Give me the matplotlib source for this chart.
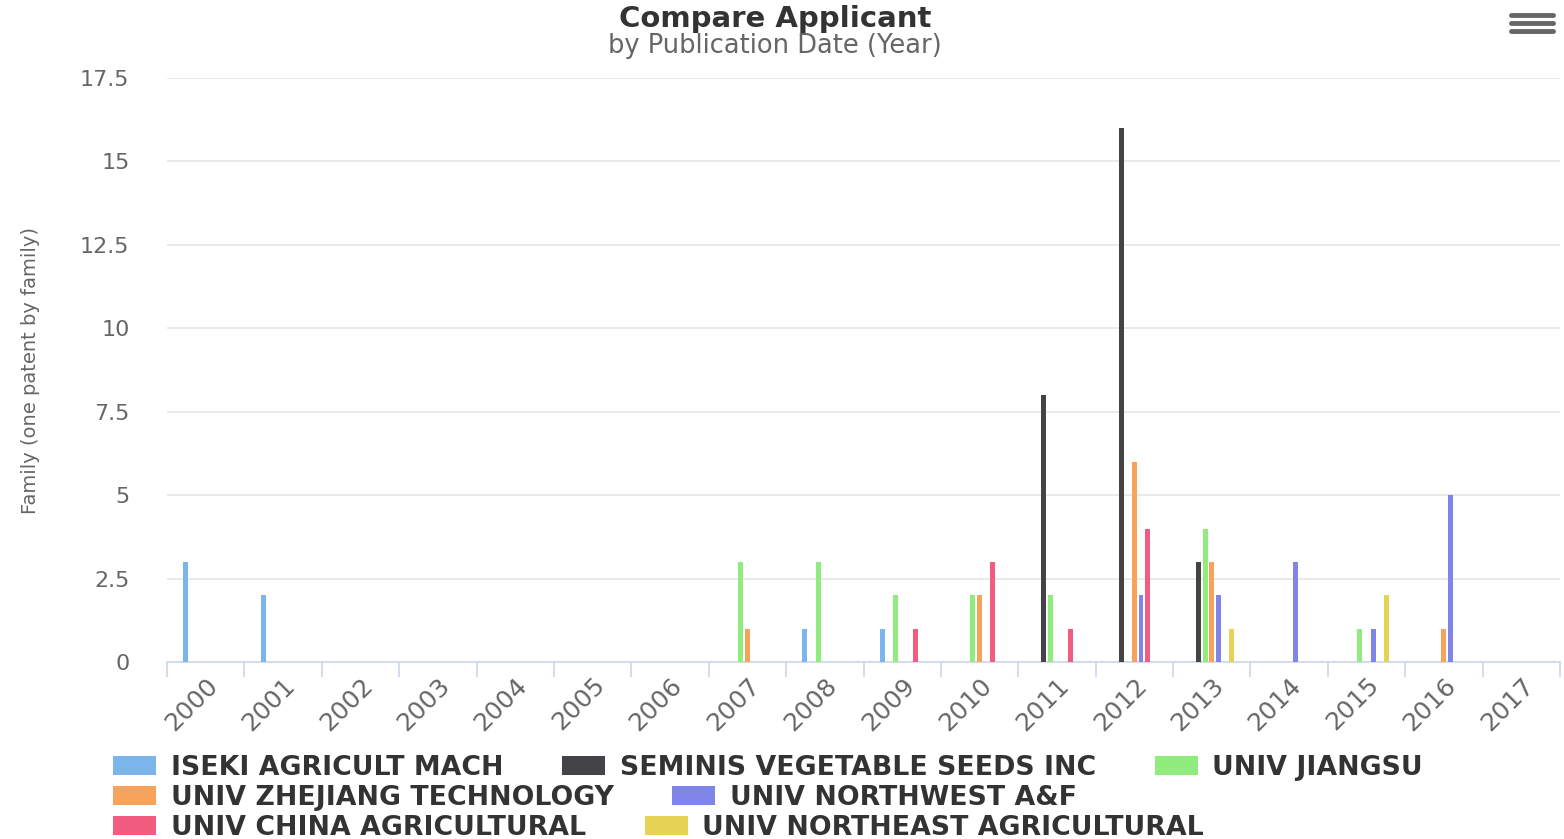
import numpy as np
import matplotlib
matplotlib.use("Agg")
import matplotlib.pyplot as plt
from matplotlib.lines import Line2D

years = [str(y) for y in range(2000, 2018)]

applicants = ["ISEKI AGRICULT MACH", "SEMINIS VEGETABLE SEEDS INC", "UNIV JIANGSU",
              "UNIV ZHEJIANG TECHNOLOGY", "UNIV NORTHWEST A&F",
              "UNIV CHINA AGRICULTURAL", "UNIV NORTHEAST AGRICULTURAL"]

#           2000 01 02 03 04 05 06 07 08 09 10 11 12 13 14 15 16 17
iseki     = [3, 2, 0, 0, 0, 0, 0, 0, 1, 1, 0, 0, 0, 0, 0, 0, 0, 0]
seminis   = [0, 0, 0, 0, 0, 0, 0, 0, 0, 0, 0, 8, 16, 3, 0, 0, 0, 0]
jiangsu   = [0, 0, 0, 0, 0, 0, 0, 3, 3, 2, 2, 2, 0, 4, 0, 1, 0, 0]
zhejiang  = [0, 0, 0, 0, 0, 0, 0, 1, 0, 0, 2, 0, 6, 3, 0, 0, 1, 0]
northwest = [0, 0, 0, 0, 0, 0, 0, 0, 0, 0, 0, 0, 2, 2, 3, 1, 5, 0]
china_agr = [0, 0, 0, 0, 0, 0, 0, 0, 0, 1, 3, 1, 4, 0, 0, 0, 0, 0]
northeast = [0, 0, 0, 0, 0, 0, 0, 0, 0, 0, 0, 0, 0, 1, 0, 2, 0, 0]

series = [iseki, seminis, jiangsu, zhejiang, northwest, china_agr, northeast]
colors = ["#7cb5ec", "#434348", "#90ed7d", "#f7a35c", "#8085e9", "#f15c80", "#e4d354"]

fig = plt.figure(figsize=(15.64, 8.39), dpi=100)
ax = fig.add_axes([167 / 1564, 1 - 662 / 839, (1560 - 167) / 1564, (662 - 78) / 839])

x = np.arange(len(years))
n = len(series)
slot = 0.6 / n
handles = []
for i, (vals, c) in enumerate(zip(series, colors)):
    off = -0.3 + slot * (i + 0.5)
    v = np.array(vals, dtype=float)
    m = v > 0
    ax.bar(x[m] + off, v[m], width=slot * 0.75, color=c, linewidth=0, zorder=3)
    handles.append(plt.Rectangle((0, 0), 1, 1, color=c, linewidth=0))

ax.set_xlim(-0.5, len(years) - 0.5)
ax.set_ylim(0, 17.5)
ax.set_yticks(np.arange(0, 17.6, 2.5))
ax.set_yticklabels(["0", "2.5", "5", "7.5", "10", "12.5", "15", "17.5"])
ax.yaxis.grid(True, color="#e6e6e6", linewidth=1.2, zorder=0)
ax.tick_params(axis="y", length=0, pad=27, labelsize=16, labelcolor="#666666")

ax.set_xticks(x)
ax.set_xticklabels(years, rotation=45, ha="right", rotation_mode="anchor")
ax.tick_params(axis="x", which="major", length=0, pad=8, labelsize=18, labelcolor="#666666")
ax.set_xticks(np.arange(-0.5, len(years), 1), minor=True)
ax.tick_params(axis="x", which="minor", length=11, width=1.2, color="#ccd6eb")

for s in ["top", "right", "left"]:
    ax.spines[s].set_visible(False)
ax.spines["bottom"].set_color("#ccd6eb")
ax.spines["bottom"].set_linewidth(1.2)

ax.set_ylabel("Family (one patent by family)", fontsize=14, color="#666666")
ax.yaxis.set_label_coords(-(167 - 31) / 1393, 0.5)
ax.yaxis.label.set_va("center")

fig.text(775 / 1564, 1 - 19 / 839, "Compare Applicant", ha="center", va="center",
         fontsize=21, fontweight="bold", color="#333333")
fig.text(775 / 1564, 1 - 46 / 839, "by Publication Date (Year)", ha="center", va="center",
         fontsize=18.5, color="#666666")

# menu icon
for yy in [15, 23, 31]:
    fig.add_artist(Line2D([1511 / 1564, 1553 / 1564], [1 - yy / 839] * 2, color="#666666",
                          linewidth=3.5, solid_capstyle="round"))

rows = [[0, 1, 2], [3, 4], [5, 6]]
row_y = [768, 798, 828]
for r, yy in zip(rows, row_y):
    leg = fig.legend([handles[i] for i in r], [applicants[i] for i in r],
                     loc="center left", bbox_to_anchor=(113 / 1564, 1 - yy / 839),
                     ncol=len(r), frameon=False, handlelength=1.6, handleheight=0.7,
                     handletextpad=0.55, columnspacing=2.2, borderpad=0, borderaxespad=0,
                     prop={"weight": "bold", "size": 19.3})
    for t in leg.get_texts():
        t.set_color("#333333")

fig.savefig("out.png", dpi=100)
